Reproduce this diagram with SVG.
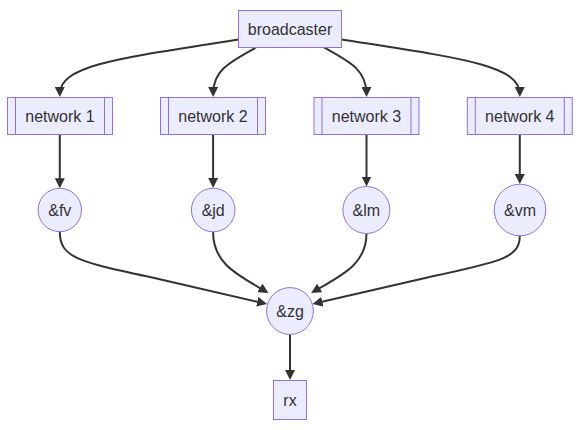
<svg xmlns="http://www.w3.org/2000/svg" width="588" height="430" viewBox="0 0 588 430">
<style>
.node rect,.node circle,.node line{fill:#ECECFF;stroke:#9370DB;stroke-width:1}
.node text{font-family:"Liberation Sans",Arial,sans-serif;font-size:16px;fill:#333;text-anchor:middle;dominant-baseline:central}
.edges path{fill:none;stroke:#333;stroke-width:2}
</style>
<defs>
<marker id="arr" markerUnits="userSpaceOnUse" viewBox="0 0 10 10" markerWidth="10" markerHeight="10" refX="7" refY="5" orient="auto">
<path d="M0,0 L10,5 L0,10 z" fill="#333"/>
</marker>
</defs>
<rect width="588" height="430" fill="#fff"/>
<g class="edges">
<path marker-end="url(#arr)" d="M238.5,39.5 C120,58 59.8,65 59.8,94"/>
<path marker-end="url(#arr)" d="M256,47.5 C230,62 213.1,70 213.1,94"/>
<path marker-end="url(#arr)" d="M324,47.5 C350,62 366.5,70 366.5,94"/>
<path marker-end="url(#arr)" d="M341.5,39.5 C460,58 519.8,65 519.8,94"/>
<path marker-end="url(#arr)" d="M59.8,135 L59.8,185.3"/>
<path marker-end="url(#arr)" d="M213.1,135 L213.1,185"/>
<path marker-end="url(#arr)" d="M366.5,135 L366.5,183.5"/>
<path marker-end="url(#arr)" d="M519.8,135 L519.8,181"/>
<path marker-end="url(#arr)" d="M59.8,232 C59.8,258 80,262 150,277 L264.1,303.3"/>
<path marker-end="url(#arr)" d="M213.1,232 C213.1,265 240,276 265.9,291.5"/>
<path marker-end="url(#arr)" d="M366.5,233.5 C366.5,265 340,276 313.7,291.5"/>
<path marker-end="url(#arr)" d="M519.8,236 C519.8,258 499.6,262 429.6,277 L315.5,303.3"/>
<path marker-end="url(#arr)" d="M290,334.5 L290,377"/>
</g>
<g id="broadcaster" class="node">
<rect x="238.5" y="10.5" width="103" height="37"/>
<text x="290" y="29">broadcaster</text>
</g>
<g id="network1" class="node">
<rect x="7.5" y="97.5" width="105" height="37"/>
<line x1="15.5" y1="97.5" x2="15.5" y2="134.5"/>
<line x1="104.5" y1="97.5" x2="104.5" y2="134.5"/>
<text x="60" y="116">network 1</text>
</g>
<g id="network2" class="node">
<rect x="160.5" y="97.5" width="105" height="37"/>
<line x1="168.5" y1="97.5" x2="168.5" y2="134.5"/>
<line x1="257.5" y1="97.5" x2="257.5" y2="134.5"/>
<text x="213" y="116">network 2</text>
</g>
<g id="network3" class="node">
<rect x="314" y="97.5" width="105" height="37"/>
<line x1="322" y1="97.5" x2="322" y2="134.5"/>
<line x1="411" y1="97.5" x2="411" y2="134.5"/>
<text x="366.5" y="116">network 3</text>
</g>
<g id="network4" class="node">
<rect x="467.3" y="97.5" width="105" height="37"/>
<line x1="475.3" y1="97.5" x2="475.3" y2="134.5"/>
<line x1="564.3" y1="97.5" x2="564.3" y2="134.5"/>
<text x="519.8" y="116">network 4</text>
</g>
<g id="fv" class="node">
<circle cx="59.8" cy="210" r="21.7"/>
<text x="59.8" y="210">&amp;fv</text>
</g>
<g id="jd" class="node">
<circle cx="213.2" cy="210" r="21.8"/>
<text x="213.2" y="210">&amp;jd</text>
</g>
<g id="lm" class="node">
<circle cx="366.4" cy="210" r="23.5"/>
<text x="366.4" y="210">&amp;lm</text>
</g>
<g id="vm" class="node">
<circle cx="520" cy="210" r="25.8"/>
<text x="520" y="210">&amp;vm</text>
</g>
<g id="zg" class="node">
<circle cx="290" cy="311" r="23.4"/>
<text x="290" y="311">&amp;zg</text>
</g>
<g id="rx" class="node">
<rect x="273.5" y="380.5" width="33" height="39"/>
<text x="290" y="400">rx</text>
</g>
</svg>
